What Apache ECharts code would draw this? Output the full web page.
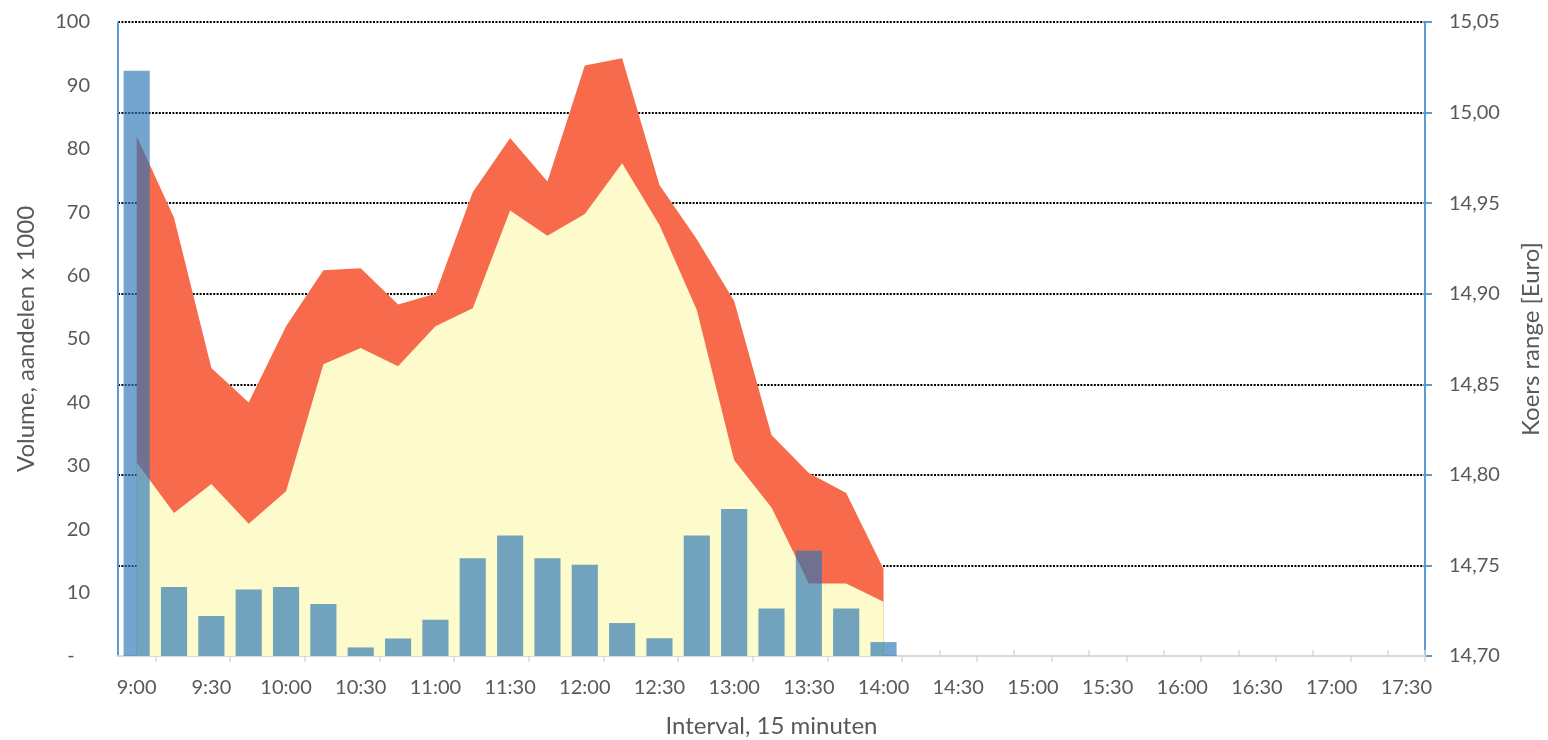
<!DOCTYPE html>
<html>
<head>
<meta charset="utf-8">
<script src="https://cdn.jsdelivr.net/npm/echarts@6/dist/echarts.min.js"></script>
<style>html,body{margin:0;padding:0;background:#fff}#c{width:1548px;height:740px}</style>
</head>
<body>
<div id="c"></div>
<script>
const categories = ['9:00','9:15','9:30','9:45','10:00','10:15','10:30','10:45','11:00','11:15','11:30','11:45',
  '12:00','12:15','12:30','12:45','13:00','13:15','13:30','13:45','14:00','14:15','14:30','14:45',
  '15:00','15:15','15:30','15:45','16:00','16:15','16:30','16:45','17:00','17:15','17:30'];
const volume = [92.3, 10.9, 6.3, 10.5, 10.9, 8.2, 1.35, 2.76, 5.7, 15.4, 19.0, 15.4, 14.4, 5.2, 2.8, 19.0, 23.2, 7.5, 16.6, 7.5, 2.2];
const priceLow = [14.807, 14.779, 14.795, 14.773, 14.791, 14.861, 14.870, 14.860, 14.882, 14.892, 14.946, 14.932, 14.944, 14.972, 14.938, 14.891, 14.808, 14.782, 14.740, 14.740, 14.730];
const priceHigh = [14.987, 14.942, 14.859, 14.840, 14.882, 14.913, 14.914, 14.894, 14.900, 14.956, 14.986, 14.962, 15.026, 15.030, 14.960, 14.930, 14.896, 14.822, 14.801, 14.790, 14.748];

const FONT = 'Lato';
const TXT = '#595959';
const chart = echarts.init(document.getElementById('c'), null, {renderer: 'canvas'});
const option = {
  animation: false,
  backgroundColor: '#ffffff',
  grid: {left: 118, right: 123, top: 22, bottom: 84, containLabel: false, outerBoundsMode: 'none'},
  xAxis: [
    {
      type: 'category', data: categories, position: 'bottom',
      axisLine: {show: true, lineStyle: {color: '#d9d9d9', width: 2}},
      axisTick: {show: true, length: 6, interval: function (i) { return i % 2 === 1; }, lineStyle: {color: '#d9d9d9', width: 1.5}},
      axisLabel: {interval: 1, color: TXT, fontFamily: FONT, fontSize: 20, margin: 22},
      splitLine: {show: false},
      name: 'Interval, 15 minuten', nameLocation: 'middle', nameGap: 58,
      nameTextStyle: {color: TXT, fontFamily: FONT, fontSize: 24}
    },
    {
      type: 'category', data: categories, position: 'bottom',
      axisLine: {show: false},
      axisTick: {show: true, inside: true, length: 6, interval: function (i) { return i % 2 === 0 && i > 0; }, lineStyle: {color: '#d9d9d9', width: 1.5}},
      axisLabel: {show: false},
      splitLine: {show: false}
    }
  ],
  yAxis: [
    {
      type: 'value', min: 0, max: 100, interval: 10, position: 'left',
      axisLine: {show: true, lineStyle: {color: '#5b9bd5', width: 2}},
      axisTick: {show: false},
      splitLine: {show: false},
      axisLabel: {color: TXT, fontFamily: FONT, fontSize: 20, margin: 28,
        formatter: function (v) { return v === 0 ? '-   ' : String(v); }},
      name: 'Volume, aandelen x 1000', nameLocation: 'middle', nameGap: 80,
      nameTextStyle: {color: TXT, fontFamily: FONT, fontSize: 24}
    },
    {
      type: 'value', min: 14.70, max: 15.05, interval: 0.05, position: 'right',
      axisLine: {show: true, lineStyle: {color: '#5b9bd5', width: 2}},
      axisTick: {show: true, length: 7, lineStyle: {color: '#5b9bd5', width: 2}},
      splitLine: {show: true, lineStyle: {color: ['rgba(0,0,0,0)', '#000', '#000', '#000', '#000', '#000', '#000', '#000'], width: 2.2, type: [2, 1.4]}},
      axisLabel: {color: TXT, fontFamily: FONT, fontSize: 20, margin: 24,
        formatter: function (v) { return v.toFixed(2).replace('.', ','); }},
      name: 'Koers range [Euro]', nameLocation: 'middle', nameGap: 94,
      nameTextStyle: {color: TXT, fontFamily: FONT, fontSize: 24}
    }
  ],
  series: [
    {
      name: 'Hoog', type: 'line', xAxisIndex: 0, yAxisIndex: 1, data: priceHigh,
      symbol: 'none', lineStyle: {width: 0}, areaStyle: {color: '#f76a4b', opacity: 1}, z: 1, silent: true
    },
    {
      name: 'Laag', type: 'line', xAxisIndex: 0, yAxisIndex: 1, data: priceLow,
      symbol: 'none', lineStyle: {width: 0}, areaStyle: {color: '#fdfacb', opacity: 1}, z: 2, silent: true
    },
    {
      name: 'Volume', type: 'bar', xAxisIndex: 0, yAxisIndex: 0, data: volume,
      barCategoryGap: '30%', itemStyle: {color: 'rgba(40,117,181,0.65)'}, z: 3
    }
  ]
};
chart.setOption(option);
</script>
</body>
</html>
